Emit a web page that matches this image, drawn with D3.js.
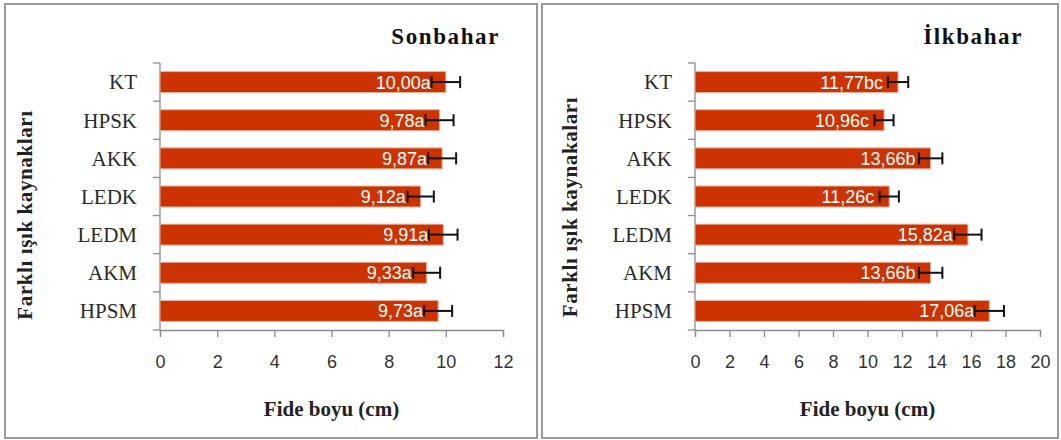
<!DOCTYPE html>
<html>
<head>
<meta charset="utf-8">
<script src="https://cdn.jsdelivr.net/npm/d3@7"></script>
<style>
  html, body { margin: 0; padding: 0; background: #fff; }
  svg { display: block; }
</style>
</head>
<body>
<svg id="chart" width="1061" height="440"></svg>
<script>
// Seedling height (cm) under different light sources, autumn and spring
const categories = ["KT", "HPSK", "AKK", "LEDK", "LEDM", "AKM", "HPSM"];

const sonbaharValues  = [10.00, 9.78, 9.87, 9.12, 9.91, 9.33, 9.73];
const sonbaharLetters = ["a", "a", "a", "a", "a", "a", "a"];
const sonbaharErrors  = [0.50, 0.49, 0.49, 0.46, 0.50, 0.47, 0.49];
const sonbaharTicks   = [0, 2, 4, 6, 8, 10, 12];

const ilkbaharValues  = [11.77, 10.96, 13.66, 11.26, 15.82, 13.66, 17.06];
const ilkbaharLetters = ["bc", "c", "b", "c", "a", "b", "a"];
const ilkbaharErrors  = [0.59, 0.55, 0.68, 0.56, 0.79, 0.68, 0.85];
const ilkbaharTicks   = [0, 2, 4, 6, 8, 10, 12, 14, 16, 18, 20];

const trFormat = d3.formatLocale({ decimal: ",", thousands: ".", grouping: [3], currency: ["", " TL"] }).format(".2f");

const svg = d3.select("#chart");
const SERIF = "'Liberation Serif', 'Times New Roman', serif";
const SANS = "'Liberation Sans', Arial, sans-serif";
const BAR = "#cc3300";

function panel(opts) {
  const g = svg.append("g");

  // panel frame
  g.append("rect")
    .attr("x", opts.frame[0]).attr("y", opts.frame[1])
    .attr("width", opts.frame[2]).attr("height", opts.frame[3])
    .attr("fill", "#fff").attr("stroke", "#9a9a9a").attr("stroke-width", 2);

  const x = d3.scaleLinear().domain(opts.domain).range([opts.x0, opts.x1]);
  const y = d3.scaleBand().domain(categories).range([63, 330]).paddingInner(0.45).paddingOuter(0.225);

  const rows = categories.map((c, i) => ({
    c, v: opts.values[i], e: opts.errors[i], l: opts.letters[i]
  }));

  // x axis
  const xAxis = g.append("g")
    .attr("transform", `translate(0,330)`)
    .call(d3.axisBottom(x).tickValues(opts.ticks).tickSize(7).tickPadding(18).tickFormat(d3.format("d")));
  xAxis.select(".domain").attr("stroke", "#8c8c8c").attr("stroke-width", 1.3);
  xAxis.selectAll(".tick line").attr("stroke", "#8c8c8c").attr("stroke-width", 1.3);
  xAxis.selectAll(".tick text")
    .attr("font-family", SANS).attr("font-size", 18).attr("fill", "#333");

  // y axis: ticks at band boundaries
  const yAxisG = g.append("g");
  yAxisG.append("line")
    .attr("x1", opts.x0).attr("x2", opts.x0).attr("y1", 63).attr("y2", 330)
    .attr("stroke", "#8c8c8c").attr("stroke-width", 1.3);
  const step = y.step();
  yAxisG.selectAll("line.yt")
    .data(d3.range(categories.length + 1))
    .join("line").attr("class", "yt")
    .attr("x1", opts.x0 - 7).attr("x2", opts.x0)
    .attr("y1", i => 63 + i * step).attr("y2", i => 63 + i * step)
    .attr("stroke", "#8c8c8c").attr("stroke-width", 1.3);
  yAxisG.selectAll("text.cat")
    .data(categories)
    .join("text").attr("class", "cat")
    .attr("x", opts.x0 - 23)
    .attr("y", d => y(d) + y.bandwidth() / 2)
    .attr("dy", "0.35em")
    .attr("text-anchor", "end")
    .attr("font-family", SERIF).attr("font-size", 21).attr("fill", "#2a2a2a")
    .text(d => d);

  // bars
  g.selectAll("rect.bar")
    .data(rows)
    .join("rect").attr("class", "bar")
    .attr("x", x(0))
    .attr("y", d => y(d.c))
    .attr("width", d => x(d.v) - x(0))
    .attr("height", y.bandwidth())
    .attr("fill", BAR)
    .attr("stroke", "#eab2a0").attr("stroke-width", 1);

  // value labels
  g.selectAll("text.val")
    .data(rows)
    .join("text").attr("class", "val")
    .attr("x", d => x(d.v) - 15)
    .attr("y", d => y(d.c) + y.bandwidth() / 2)
    .attr("dy", "0.36em")
    .attr("text-anchor", "end")
    .attr("font-family", SANS).attr("font-size", 18).attr("fill", "#fff")
    .text(d => trFormat(d.v) + d.l);

  // error bars
  const eb = g.selectAll("g.err").data(rows).join("g").attr("class", "err")
    .attr("stroke", "#111").attr("stroke-width", 2);
  eb.append("line")
    .attr("x1", d => x(d.v - d.e)).attr("x2", d => x(d.v + d.e))
    .attr("y1", d => y(d.c) + y.bandwidth() / 2).attr("y2", d => y(d.c) + y.bandwidth() / 2);
  eb.append("line")
    .attr("x1", d => x(d.v - d.e)).attr("x2", d => x(d.v - d.e))
    .attr("y1", d => y(d.c) + y.bandwidth() / 2 - 6).attr("y2", d => y(d.c) + y.bandwidth() / 2 + 6);
  eb.append("line")
    .attr("x1", d => x(d.v + d.e)).attr("x2", d => x(d.v + d.e))
    .attr("y1", d => y(d.c) + y.bandwidth() / 2 - 6).attr("y2", d => y(d.c) + y.bandwidth() / 2 + 6);

  // season title
  g.append("text")
    .attr("x", opts.titleX).attr("y", 44)
    .attr("text-anchor", "end")
    .attr("font-family", SERIF).attr("font-weight", "bold").attr("font-size", 23)
    .attr("letter-spacing", 1.6).attr("fill", "#111")
    .text(opts.title);

  // x axis title
  g.append("text")
    .attr("x", (opts.x0 + opts.x1) / 2).attr("y", 416)
    .attr("text-anchor", "middle")
    .attr("font-family", SERIF).attr("font-weight", "bold").attr("font-size", 21)
    .attr("fill", "#222")
    .text("Fide boyu (cm)");

  // y axis title
  g.append("text")
    .attr("transform", `translate(${opts.yTitle[0]},${opts.yTitle[1]}) rotate(-90)`)
    .attr("dy", "0.35em")
    .attr("text-anchor", "middle")
    .attr("font-family", SERIF).attr("font-weight", "bold").attr("font-size", 21)
    .attr("letter-spacing", 0.6).attr("fill", "#222")
    .text(opts.yLabel);
}

panel({
  frame: [5, 4, 532, 434],
  domain: [0, 12], x0: 160, x1: 503,
  values: sonbaharValues, errors: sonbaharErrors, letters: sonbaharLetters,
  ticks: sonbaharTicks,
  title: "Sonbahar", titleX: 500,
  yLabel: "Farklı ışık kaynakları", yTitle: [25, 215]
});

panel({
  frame: [542, 4, 516, 434],
  domain: [0, 20], x0: 695, x1: 1040,
  values: ilkbaharValues, errors: ilkbaharErrors, letters: ilkbaharLetters,
  ticks: ilkbaharTicks,
  title: "İlkbahar", titleX: 1023,
  yLabel: "Farklı ışık kaynakaları", yTitle: [570, 207]
});
</script>
</body>
</html>
